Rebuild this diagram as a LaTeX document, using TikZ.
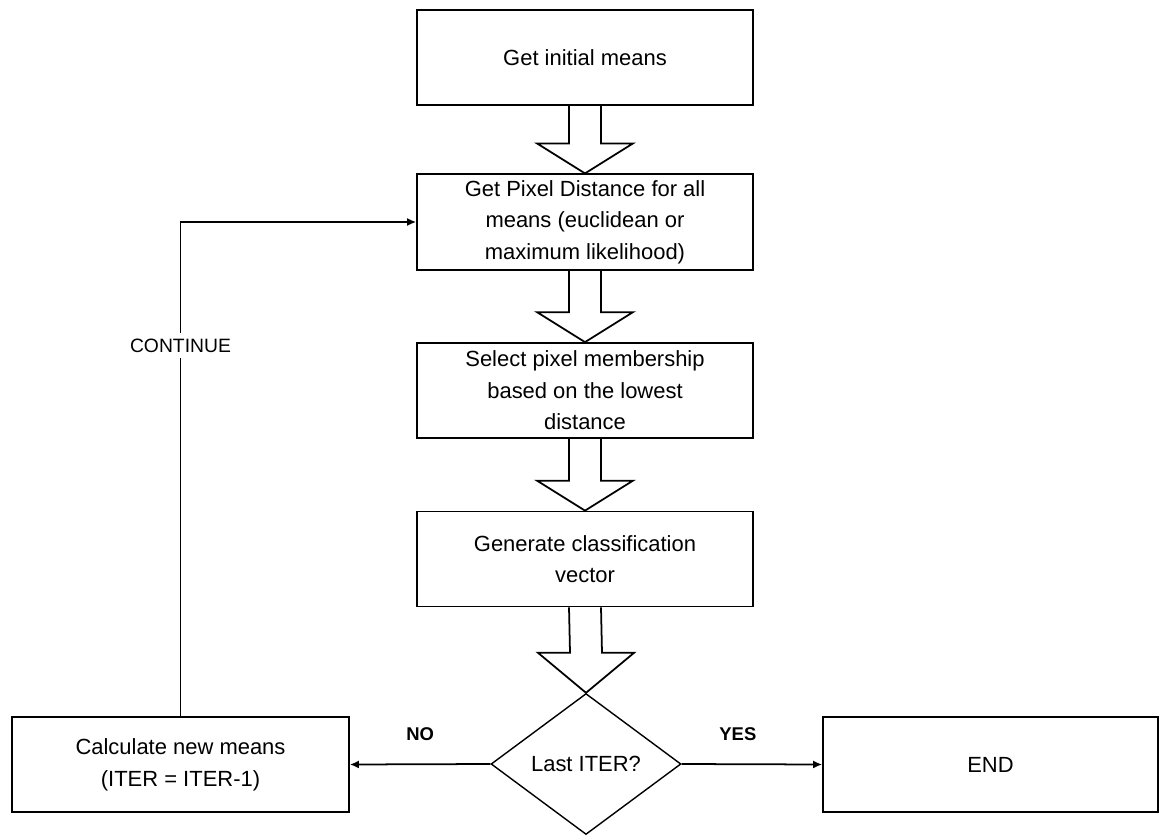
\documentclass[tikz,border=0pt]{standalone}
\usepackage{fontspec}
\setmainfont{Liberation Sans}
\usetikzlibrary{shapes.geometric,arrows.meta,calc}
\newcommand{\blockarrow}[3][0.6cm]{%
  \draw[line width=1pt] ($(#2.south)+(-0.32cm,0)$) -- ($(#3.north)+(-0.32cm,#1)$)
    -- ($(#3.north)+(-0.96cm,#1)$) -- (#3.north) -- ($(#3.north)+(0.96cm,#1)$)
    -- ($(#3.north)+(0.32cm,#1)$) -- ($(#2.south)+(0.32cm,0)$);}
\begin{document}
\begin{tikzpicture}[x=0.02cm, y=0.02cm,
    procbox/.style={draw, line width=1pt, minimum width=6.72cm,
      minimum height=1.9cm, align=center, font=\fontsize{12.5}{18}\selectfont},
    decision/.style={draw, diamond, line width=0.8pt, inner sep=0pt,
      minimum width=3.8cm, minimum height=2.82cm,
      font=\fontsize{12.5}{18}\selectfont},
    flowline/.style={line width=1pt, -{Latex[length=1.8mm, width=1.6mm]}},
    lbl/.style={font=\fontsize{10.5}{12}\selectfont\bfseries}]
            \useasboundingbox (0,0) rectangle (1159,836);
            \node[procbox] (init) at (585,778.5) {Get initial means};
            \node[procbox] (dist) at (585,614) {Get Pixel Distance for all\\
            means (euclidean or\\ maximum likelihood)};
            \node[procbox] (member) at (585,445.5) {Select pixel membership\\
            based on the lowest\\ distance};
            \node[procbox] (classify) at (585,277) {Generate classification\\
            vector};
            \node[decision] (last) at (586,72) {Last ITER?};
            \node[procbox, minimum width=6.74cm] (newmeans) at (180.5,71.5)
            {Calculate new means\\ (ITER = ITER-1)};
            \node[procbox, minimum width=6.7cm] (end) at (990.5,71.5) {END};
            \blockarrow{init}{dist}
            \blockarrow{dist}{member}
            \blockarrow{member}{classify}
            \blockarrow[0.8cm]{classify}{last}
            \draw[flowline] (last.west) -- node[lbl, above=0.33cm]{NO}
            (newmeans.east);
            \draw[flowline] (last.east) -- node[lbl, above=0.33cm, pos=0.4]{YES}
            (end.west);
            \draw[flowline] (newmeans.north) |- node[pos=0.375, fill=white,
            font=\fontsize{11}{12}\selectfont]{CONTINUE} (dist.west);
          \end{tikzpicture}
\end{document}
